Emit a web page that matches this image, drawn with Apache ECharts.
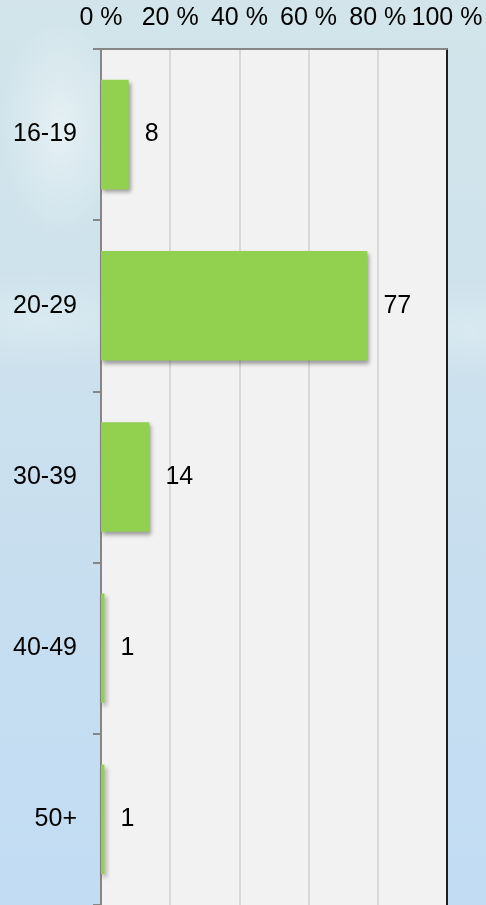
<!DOCTYPE html>
<html>
<head>
<meta charset="utf-8">
<script src="https://cdn.jsdelivr.net/npm/echarts@6/dist/echarts.min.js"></script>
<style>
  html, body { margin: 0; padding: 0; }
  body {
    width: 486px; height: 905px; overflow: hidden;
    background:
      radial-gradient(ellipse 60px 110px at 60px 130px, rgba(255,255,255,0.45), rgba(255,255,255,0) 100%),
      radial-gradient(ellipse 150px 50px at 40px 320px, rgba(255,255,255,0.25), rgba(255,255,255,0) 100%),
      radial-gradient(ellipse 90px 50px at 470px 330px, rgba(255,255,255,0.25), rgba(255,255,255,0) 100%),
      linear-gradient(180deg, #d3e5eb 0%, #cde2ec 35%, #c7def0 65%, #c2dcf3 100%);
  }
  #chart { width: 486px; height: 905px; }
</style>
</head>
<body>
<div id="chart"></div>
<script>
  // Age groups and their share of respondents (%)
  const ageGroups = ['16-19', '20-29', '30-39', '40-49', '50+'];
  const shares = [8, 77, 14, 1, 1];
  const percentTicks = { min: 0, max: 100, step: 20 };

  const textFont = { fontFamily: '"Liberation Sans", Arial, sans-serif', fontSize: 25, color: '#000' };

  const chart = echarts.init(document.getElementById('chart'), null, { renderer: 'canvas' });
  chart.setOption({
    backgroundColor: 'transparent',
    animation: false,
    grid: {
      left: 101, top: 49, width: 346, height: 857.5,
      show: true, backgroundColor: '#f2f2f2', borderWidth: 0
    },
    xAxis: {
      type: 'value',
      position: 'top',
      min: percentTicks.min, max: percentTicks.max, interval: percentTicks.step,
      axisLine: { show: true, lineStyle: { color: '#868686', width: 2 } },
      axisTick: { show: false },
      axisLabel: Object.assign({ margin: 18, lineHeight: 25, formatter: '{value} %' }, textFont),
      splitLine: { show: true, lineStyle: { color: '#d9d9d9', width: 2 } }
    },
    yAxis: [{
      type: 'category',
      data: ageGroups,
      inverse: true,
      axisLine: { show: true, lineStyle: { color: '#868686', width: 2 } },
      axisTick: { show: true, length: 8, lineStyle: { color: '#868686', width: 2 } },
      axisLabel: Object.assign({ margin: 24 }, textFont),
      splitLine: { show: false }
    }, {
      type: 'category',
      data: ageGroups,
      inverse: true,
      position: 'right',
      axisLine: { show: true, lineStyle: { color: '#1e1e1e', width: 2 } },
      axisTick: { show: false },
      axisLabel: { show: false },
      splitLine: { show: false }
    }],
    series: [{
      type: 'bar',
      data: shares,
      barCategoryGap: '36%',
      itemStyle: {
        color: '#92d050',
        shadowColor: 'rgba(0,0,0,0.35)',
        shadowBlur: 4,
        shadowOffsetX: 2,
        shadowOffsetY: 3
      },
      label: Object.assign({ show: true, position: 'right', distance: 16 }, textFont)
    }]
  });
</script>
</body>
</html>
